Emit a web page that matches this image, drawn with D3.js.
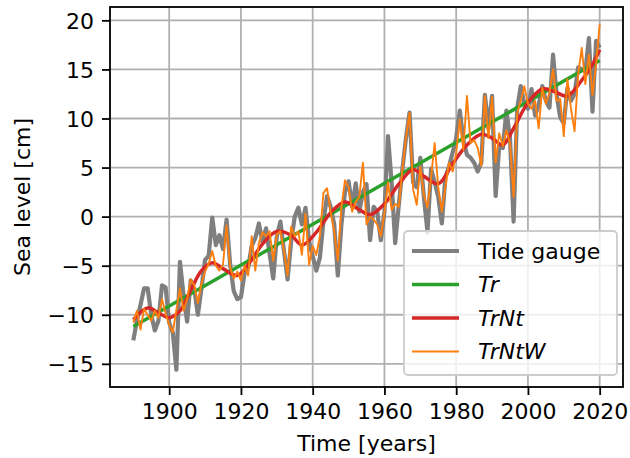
<!DOCTYPE html>
<html>
<head>
<meta charset="utf-8">
<script src="https://cdn.jsdelivr.net/npm/d3@7"></script>
<style>
  body { margin: 0; background: #fff; }
  text { font-family: 'DejaVu Sans', sans-serif; fill: #000; }
</style>
</head>
<body>
<div class="main"></div>
<script>
const w = 630;
const h = 458;
const fontSize = 22;

// yearly values 1890..2020
const years = d3.range(1890, 2021);

const tideGauge = [
  -12.6, -10.6, -9.0, -7.3, -7.3, -10.0, -11.6, -10.6, -7.0, -7.2,
  -10.8, -11.8, -15.6, -4.6, -8.0, -10.7, -6.5, -7.4, -10.0, -7.3,
  -4.4, -4.0, -0.1, -2.9, -1.9, -3.3, -0.3, -4.9, -7.6, -8.4,
  -8.2, -5.8, -5.2, -3.0, -2.2, -0.7, -2.6, -1.2, -3.8, -6.3,
  -2.0, -0.5, -3.5, -6.4, -2.5, 0.0, 0.9, -0.8, 0.9, -2.5,
  -4.0, -5.5, -4.2, -0.5, 2.1, 1.0, -0.8, -6.0, -0.8, 2.5,
  3.6, 1.0, 3.4, 0.5, 2.5, 3.3, -2.4, 1.0, 0.5, -2.4,
  0.5, 8.2, 3.5, -2.7, 1.2, 4.8, 8.0, 10.6, 3.5, 3.0,
  6.0, 2.0, -1.6, 4.9, 3.5, 2.0, -0.7, 4.0, 5.1, 6.5,
  8.0, 10.8, 7.8, 6.3, 6.0, 5.5, 4.6, 5.5, 12.4, 9.0,
  12.3, 2.1, 7.2, 7.0, 10.8, 8.0, -0.5, 11.0, 13.3, 11.5,
  11.0, 13.0, 10.3, 11.4, 13.3, 11.8, 11.1, 16.5, 12.4, 10.1,
  9.5, 13.1, 11.8, 12.5, 15.2, 15.0, 14.8, 18.2, 10.7, 17.9,
  17.2
];

const trNtW = [
  -10.8, -9.6, -11.5, -9.4, -10.0, -10.6, -9.6, -10.3, -8.4, -9.9,
  -11.0, -11.8, -9.5, -7.3, -9.6, -8.4, -6.4, -7.0, -8.8, -6.8,
  -5.6, -4.8, -3.5, -5.0, -5.5, -4.9, -0.9, -5.2, -6.3, -5.6,
  -6.5, -5.0, -6.0, -2.0, -5.5, -2.7, -1.6, -2.0, -1.5, -4.5,
  -1.8, -1.5, -3.5, -6.0, -1.0, -2.0, -1.5, -3.9, 0.3, -4.9,
  -3.0, -3.9, -2.0, 2.4, 2.9, 0.5, -1.5, -4.5, 1.0, 3.7,
  3.0, 0.5, 1.5, 2.0, 5.5, -0.8, 0.0, -0.3, -0.8, -2.0,
  0.4, 3.5, 0.7, 1.3, 1.0, 4.8, 8.0, 10.6, 2.8, 1.2,
  5.1, 2.2, 0.9, 4.0, 7.5, 3.0, 0.5, 3.0, 5.5, 4.6,
  6.5, 9.9, 6.8, 12.3, 7.5, 7.8, 7.0, 5.2, 12.3, 8.0,
  12.2, 5.5, 8.5, 7.2, 8.8, 7.5, 2.0, 10.5, 11.8, 13.3,
  11.5, 11.0, 11.8, 9.0, 13.1, 11.5, 12.6, 15.0, 11.8, 12.0,
  8.2, 14.0, 11.0, 8.7, 14.5, 17.2, 13.5, 16.5, 12.4, 15.5,
  19.6
];

// smooth trend + nonlinear component, read at turning points
const trNtYears = [
  1890, 1894, 1897, 1900, 1903, 1906, 1909, 1912, 1915, 1919,
  1922, 1926, 1930, 1934, 1937, 1941, 1945, 1949, 1953, 1956,
  1960, 1964, 1968, 1971, 1975, 1979, 1983, 1987, 1990, 1993,
  1996, 2000, 2004, 2007, 2011, 2015, 2018, 2020
];
const trNtValues = [
  -10.5, -9.3, -9.8, -10.3, -9.6, -7.5, -5.5, -4.7, -5.3, -6.0,
  -4.9, -2.8, -1.5, -1.9, -2.9, -1.6, 0.4, 1.5, 0.7, 0.2,
  1.3, 3.3, 4.8, 4.1, 3.35, 5.4, 7.3, 8.4, 8.0, 7.3,
  9.0, 11.6, 13.0, 12.8, 12.3, 13.9, 15.5, 17.0
];

// linear trend end points
const trYears = [1890, 2020];
const trValues = [-11.2, 15.9];

const xTicks = [1900, 1920, 1940, 1960, 1980, 2000, 2020];
const yTicks = [-15, -10, -5, 0, 5, 10, 15, 20];

const seriesNames = ['Tide gauge', 'Tr', 'TrNt', 'TrNtW'];
const seriesColors = ['#7f7f7f', '#2ca02c', '#d62728', '#ff7f0e'];
const seriesWidths = [4.2, 3.5, 3.5, 1.9];
const seriesItalic = [false, true, true, true];

const plot = { left: 110, right: 623, top: 7, bottom: 387 };

const svg = d3.select('.main').append('svg').attr('width', w).attr('height', h);
svg.append('rect').attr('width', w).attr('height', h).attr('fill', '#fff');

// matplotlib style 5% margins
const xSpan = d3.max(years) - d3.min(years);
const yMin = d3.min([d3.min(tideGauge), d3.min(trNtW)]);
const yMax = d3.max([d3.max(tideGauge), d3.max(trNtW)]);
const ySpan = yMax - yMin;

const x = d3
  .scaleLinear()
  .domain([d3.min(years) - 0.05 * xSpan, d3.max(years) + 0.05 * xSpan])
  .range([plot.left, plot.right]);
const y = d3
  .scaleLinear()
  .domain([yMin - 0.05 * ySpan, yMax + 0.05 * ySpan])
  .range([plot.bottom, plot.top]);

// grid
const grid = svg.append('g').attr('stroke', '#b0b0b0').attr('stroke-width', 1.8);
grid.selectAll('.gx').data(xTicks).enter().append('line')
  .attr('x1', (d) => x(d)).attr('x2', (d) => x(d))
  .attr('y1', plot.top).attr('y2', plot.bottom);
grid.selectAll('.gy').data(yTicks).enter().append('line')
  .attr('y1', (d) => y(d)).attr('y2', (d) => y(d))
  .attr('x1', plot.left).attr('x2', plot.right);

// clip for data lines
svg.append('clipPath').attr('id', 'clip').append('rect')
  .attr('x', plot.left).attr('y', plot.top)
  .attr('width', plot.right - plot.left).attr('height', plot.bottom - plot.top);

const lines = svg.append('g').attr('clip-path', 'url(#clip)').attr('fill', 'none')
  .attr('stroke-linejoin', 'round').attr('stroke-linecap', 'butt');

const line = d3.line().x((d) => x(d[0])).y((d) => y(d[1]));
const smooth = d3.line().x((d) => x(d[0])).y((d) => y(d[1])).curve(d3.curveCatmullRom);

lines.append('path').datum(d3.zip(years, tideGauge))
  .attr('stroke', seriesColors[0]).attr('stroke-width', seriesWidths[0]).attr('d', line);
lines.append('path').datum(d3.zip(trYears, trValues))
  .attr('stroke', seriesColors[1]).attr('stroke-width', seriesWidths[1]).attr('d', line);
lines.append('path').datum(d3.zip(trNtYears, trNtValues))
  .attr('stroke', seriesColors[2]).attr('stroke-width', seriesWidths[2]).attr('d', smooth);
lines.append('path').datum(d3.zip(years, trNtW))
  .attr('stroke', seriesColors[3]).attr('stroke-width', seriesWidths[3]).attr('d', line);

// axes
const xAxis = d3.axisBottom(x).tickValues(xTicks).tickFormat(d3.format('d')).tickSize(8).tickPadding(8);
const yAxis = d3.axisLeft(y).tickValues(yTicks).tickSize(8).tickPadding(8);

const gx = svg.append('g').attr('transform', `translate(0,${plot.bottom})`).call(xAxis);
const gy = svg.append('g').attr('transform', `translate(${plot.left},0)`).call(yAxis);
[gx, gy].forEach((g) => {
  g.select('.domain').remove();
  g.selectAll('.tick line').attr('stroke', '#000').attr('stroke-width', 1.8);
  g.selectAll('.tick text').attr('font-size', fontSize).attr('font-family', 'DejaVu Sans');
});
gy.selectAll('.tick text').attr('dy', '0.36em');

// spines
svg.append('rect')
  .attr('x', plot.left).attr('y', plot.top)
  .attr('width', plot.right - plot.left).attr('height', plot.bottom - plot.top)
  .attr('fill', 'none').attr('stroke', '#000').attr('stroke-width', 1.8);

// axis labels
svg.append('text')
  .attr('x', (plot.left + plot.right) / 2).attr('y', 451)
  .attr('text-anchor', 'middle').attr('font-size', fontSize)
  .text('Time [years]');
svg.append('text')
  .attr('transform', `translate(30,${(plot.top + plot.bottom) / 2}) rotate(-90)`)
  .attr('text-anchor', 'middle').attr('font-size', fontSize)
  .text('Sea level [cm]');

// legend
const legend = svg.append('g');
legend.append('rect')
  .attr('x', 404).attr('y', 231).attr('width', 213).attr('height', 144).attr('rx', 4)
  .attr('fill', '#fff').attr('fill-opacity', 0.8)
  .attr('stroke', '#cccccc').attr('stroke-width', 1.8);

const rows = legend.selectAll('.row').data(seriesNames).enter().append('g')
  .attr('transform', (d, i) => `translate(0,${251 + i * 33.5})`);
rows.append('line')
  .attr('x1', 412).attr('x2', 459)
  .attr('stroke', (d, i) => seriesColors[i])
  .attr('stroke-width', (d, i) => seriesWidths[i]);
rows.append('text')
  .attr('x', 478).attr('dy', '0.36em').attr('font-size', fontSize)
  .attr('font-style', (d, i) => (seriesItalic[i] ? 'italic' : 'normal'))
  .text((d) => d);
</script>
</body>
</html>
